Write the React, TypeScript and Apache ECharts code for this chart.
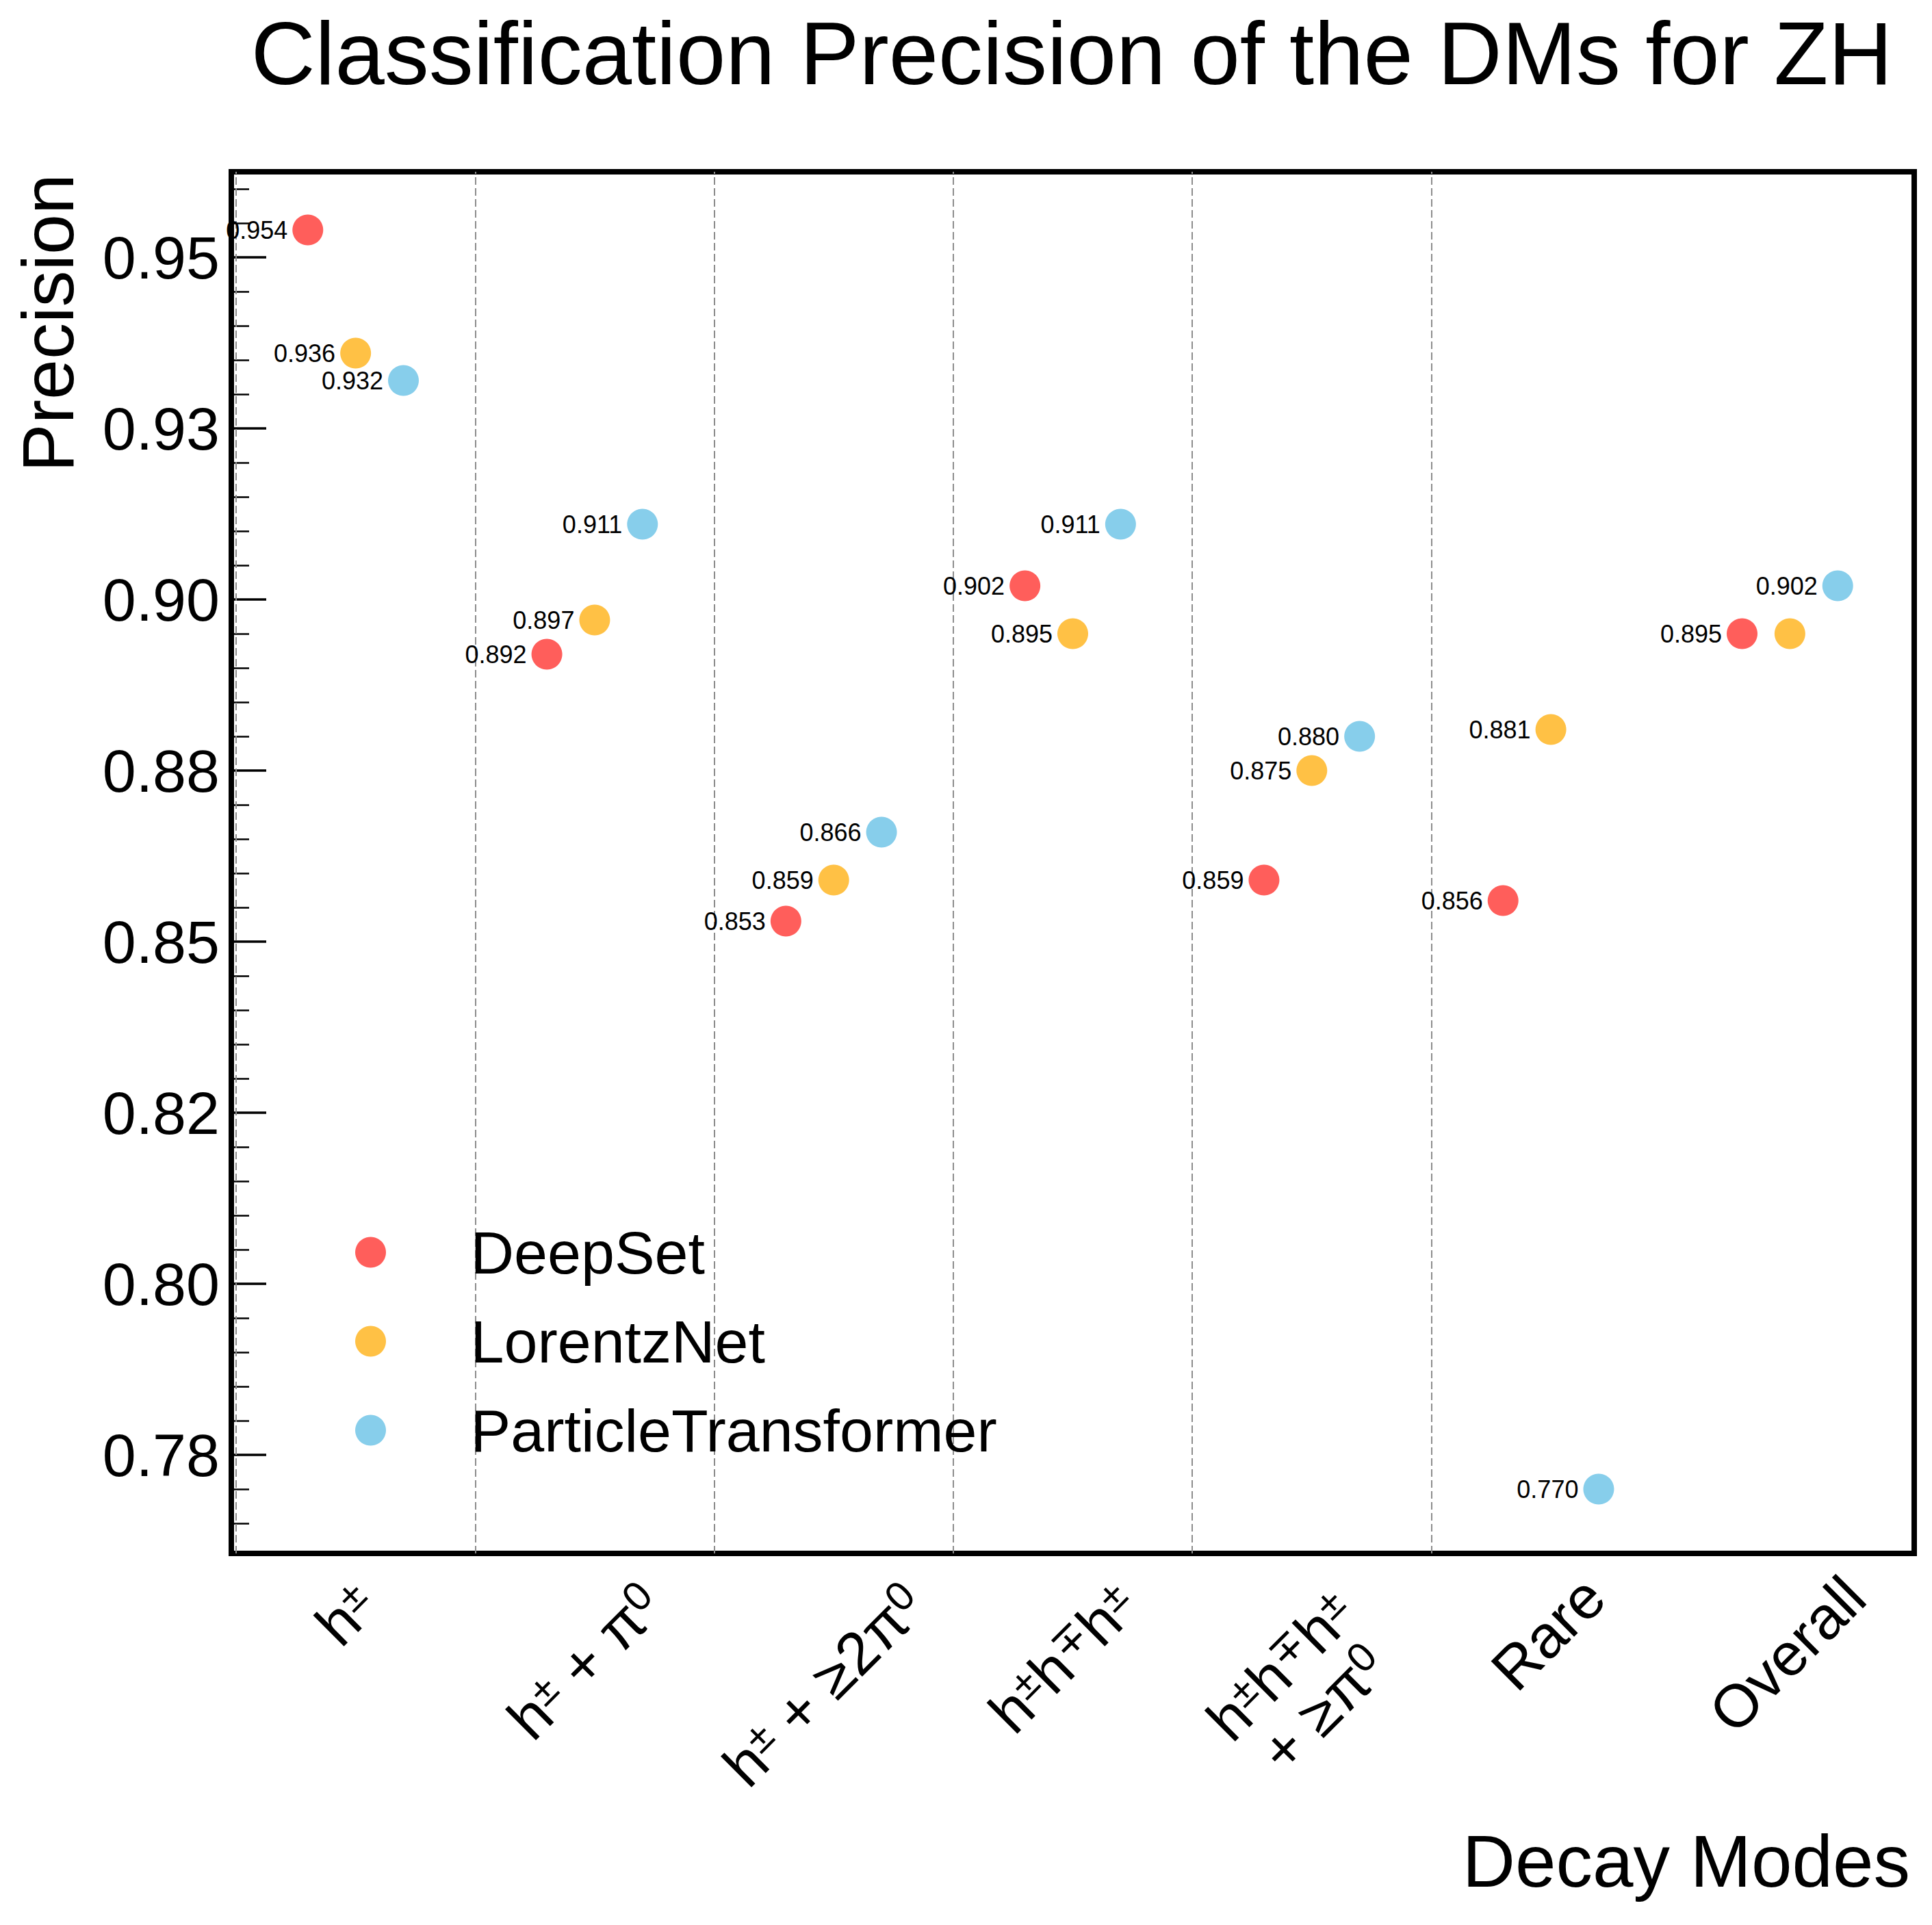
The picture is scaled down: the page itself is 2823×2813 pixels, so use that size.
import React, { useEffect, useRef } from 'react';
import * as echarts from 'echarts';

// ---- data ----
const categoryLabels = [
  'h{s|±}',
  'h{s|±} + π{s|0}',
  'h{s|±} + ≥2π{s|0}',
  'h{s|±}h{s|∓}h{s|±}',
  'h{s|±}h{s|∓}h{s|±}\n+ ≥π{s|0}',
  'Rare',
  'Overall',
];
const seriesNames = ['DeepSet', 'LorentzNet', 'ParticleTransformer'];
const deepSet = [0.954, 0.892, 0.853, 0.902, 0.859, 0.856, 0.895];
const lorentzNet = [0.936, 0.897, 0.859, 0.895, 0.875, 0.881, 0.895];
const particleTransformer = [0.932, 0.911, 0.866, 0.911, 0.88, 0.77, 0.902];
// value labels that are not drawn in the reference (hidden under a neighbour): [series, category]
const hiddenValueLabels = [[1, 6]];
const yTickValues = [0.775, 0.8, 0.825, 0.85, 0.875, 0.9, 0.925, 0.95];
const yTickLabels = ['0.78', '0.80', '0.82', '0.85', '0.88', '0.90', '0.93', '0.95'];

const FONT = "'Liberation Sans', Arial, Helvetica, sans-serif";

export default function App() {
  const ref = useRef<HTMLDivElement>(null);

  useEffect(() => {
    document.body.style.margin = '0';
    const el = ref.current!;
    const chart = echarts.init(el, null, { renderer: 'svg' });

    const yMin = 0.7606;
    const yMax = 0.9625;
    const xMin = -0.52;
    const xMax = 6.52;
    const offsets = [-0.2, 0, 0.2];
    const colors = ['#FF5E5B', '#FFC145', '#87CEEB'];
    const values = [deepSet, lorentzNet, particleTransformer];

    const minorValues: number[] = [];
    for (let k = 153; k <= 192; k++) {
      if (k % 5 !== 0) minorValues.push(+(k * 0.005).toFixed(3));
    }
    const boundaries = categoryLabels.slice(0, -1).map((_, i) => i - 0.5);

    const gridRect = { left: 338, top: 251, right: 26, bottom: 543 };

    const option: any = {
      animation: false,
      backgroundColor: '#ffffff',
      textStyle: { fontFamily: FONT },
      grid: [
        {
          ...gridRect,
          show: true,
          borderColor: '#000',
          borderWidth: 8,
          backgroundColor: 'transparent',
          containLabel: false,
          outerBoundsMode: 'none',
        },
        { ...gridRect, show: false, containLabel: false, outerBoundsMode: 'none' },
      ],
      xAxis: [
        {
          type: 'value',
          gridIndex: 0,
          min: xMin,
          max: xMax,
          axisLine: { show: false, onZero: false },
          axisTick: { show: false },
          axisLabel: { show: false },
          splitLine: { show: false },
        },
        { type: 'value', gridIndex: 1, min: xMin, max: xMax, show: false, axisLine: { onZero: false } },
      ],
      yAxis: [
        {
          type: 'value',
          gridIndex: 0,
          position: 'left',
          min: yMin,
          max: yMax,
          axisLine: { show: false, onZero: false },
          splitLine: { show: false },
          axisTick: {
            show: true,
            inside: true,
            length: 51,
            customValues: yTickValues,
            lineStyle: { color: '#000', width: 3.5 },
          },
          axisLabel: {
            show: true,
            customValues: yTickValues,
            margin: 17,
            fontSize: 88,
            color: '#000',
            fontFamily: FONT,
            formatter: (v: number) => {
              const i = yTickValues.findIndex((t) => Math.abs(t - v) < 1e-6);
              return i >= 0 ? yTickLabels[i] : '';
            },
          },
        },
        {
          type: 'value',
          gridIndex: 1,
          position: 'left',
          min: yMin,
          max: yMax,
          axisLine: { show: false, onZero: false },
          splitLine: { show: false },
          axisLabel: { show: false },
          axisTick: {
            show: true,
            inside: true,
            length: 26,
            customValues: minorValues,
            lineStyle: { color: '#000', width: 2.5 },
          },
        },
      ],
      legend: {
        orient: 'vertical',
        left: 519,
        top: 1776,
        padding: 0,
        itemGap: 22,
        itemWidth: 282,
        itemHeight: 45,
        icon: 'circle',
        selectedMode: false,
        data: seriesNames,
        textStyle: {
          fontSize: 88,
          color: '#000',
          fontFamily: FONT,
          lineHeight: 88,
          padding: [0, 0, 20, 0],
        },
      },
      series: values.map((vals, s) => {
        const ser: any = {
          type: 'scatter',
          name: seriesNames[s],
          xAxisIndex: 0,
          yAxisIndex: 0,
          data: vals.map((v, i) => {
            const hidden = hiddenValueLabels.some(([hs, hi]) => hs === s && hi === i);
            return hidden
              ? { value: [i + offsets[s], v], label: { show: false } }
              : { value: [i + offsets[s], v] };
          }),
          symbol: 'circle',
          symbolSize: 45,
          itemStyle: { color: colors[s], opacity: 1 },
          emphasis: { disabled: true },
          z: 3,
          label: {
            show: true,
            position: 'left',
            distance: 7,
            fontSize: 36,
            color: '#000',
            fontFamily: FONT,
            formatter: (p: any) => Number(p.value[1]).toFixed(3),
          },
        };
        if (s === 0) {
          ser.markLine = {
            silent: true,
            symbol: ['none', 'none'],
            label: { show: false },
            emphasis: { disabled: true },
            lineStyle: { color: '#8c8c8c', width: 2, type: [11, 5] },
            data: boundaries.map((b) => ({ xAxis: b })),
            z: 1,
          };
        }
        return ser;
      }),
    };

    chart.setOption(option);

    // x tick labels (rotated 45°, centred on the tick like matplotlib)
    const canvas = document.createElement('canvas');
    const ctx = canvas.getContext('2d')!;
    const measure = (t: string, size: number) => {
      ctx.font = `${size}px ${FONT}`;
      return ctx.measureText(t).width;
    };
    const lineWidth = (line: string) =>
      line
        .split(/(\{s\|[^}]*\})/)
        .filter((seg) => seg.length > 0)
        .reduce((acc, seg) => {
          if (seg.startsWith('{s|')) return acc + measure(seg.slice(3, -1), 60);
          return acc + measure(seg, 88);
        }, 0);

    const axisBottom = chart.convertToPixel({ yAxisIndex: 0 } as any, yMin) as number;
    const labelEls = categoryLabels.map((label, i) => {
      const tickX = chart.convertToPixel({ xAxisIndex: 0 } as any, i) as number;
      const lines = label.split('\n');
      const hasSup = label.includes('{s|');
      const lineH = hasSup ? 120 : 88;
      const W = Math.max(...lines.map(lineWidth));
      const H = lineH * lines.length;
      const cy = axisBottom + 18 + ((W + H) * Math.SQRT1_2) / 2;
      return {
        type: 'text',
        x: tickX - (hasSup ? 14 : 4),
        y: cy,
        rotation: Math.PI / 4,
        silent: true,
        style: {
          text: label,
          fontSize: 88,
          fontFamily: FONT,
          lineHeight: 88,
          fill: '#000',
          align: 'center',
          verticalAlign: 'middle',
          rich: {
            s: {
              fontSize: 60,
              lineHeight: 60,
              fontFamily: FONT,
              fill: '#000',
              verticalAlign: 'top',
              padding: [0, 0, 60, 0],
            },
          },
        },
      };
    });

    chart.setOption({
      graphic: [
        {
          type: 'text',
          x: 1566,
          y: 78,
          silent: true,
          style: {
            text: 'Classification Precision of the DMs for ZH',
            fontSize: 130,
            fontFamily: FONT,
            fill: '#000',
            align: 'center',
            verticalAlign: 'middle',
          },
        },
        {
          type: 'text',
          x: 70,
          y: 254,
          rotation: Math.PI / 2,
          silent: true,
          style: {
            text: 'Precision',
            fontSize: 106,
            fontFamily: FONT,
            fill: '#000',
            align: 'right',
            verticalAlign: 'middle',
          },
        },
        {
          type: 'text',
          x: 2791,
          y: 2720,
          silent: true,
          style: {
            text: 'Decay Modes',
            fontSize: 107,
            fontFamily: FONT,
            fill: '#000',
            align: 'right',
            verticalAlign: 'middle',
          },
        },
        ...labelEls,
      ],
    });

    return () => {
      chart.dispose();
    };
  }, []);

  return <div ref={ref} style={{ width: 2823, height: 2813 }} />;
}
